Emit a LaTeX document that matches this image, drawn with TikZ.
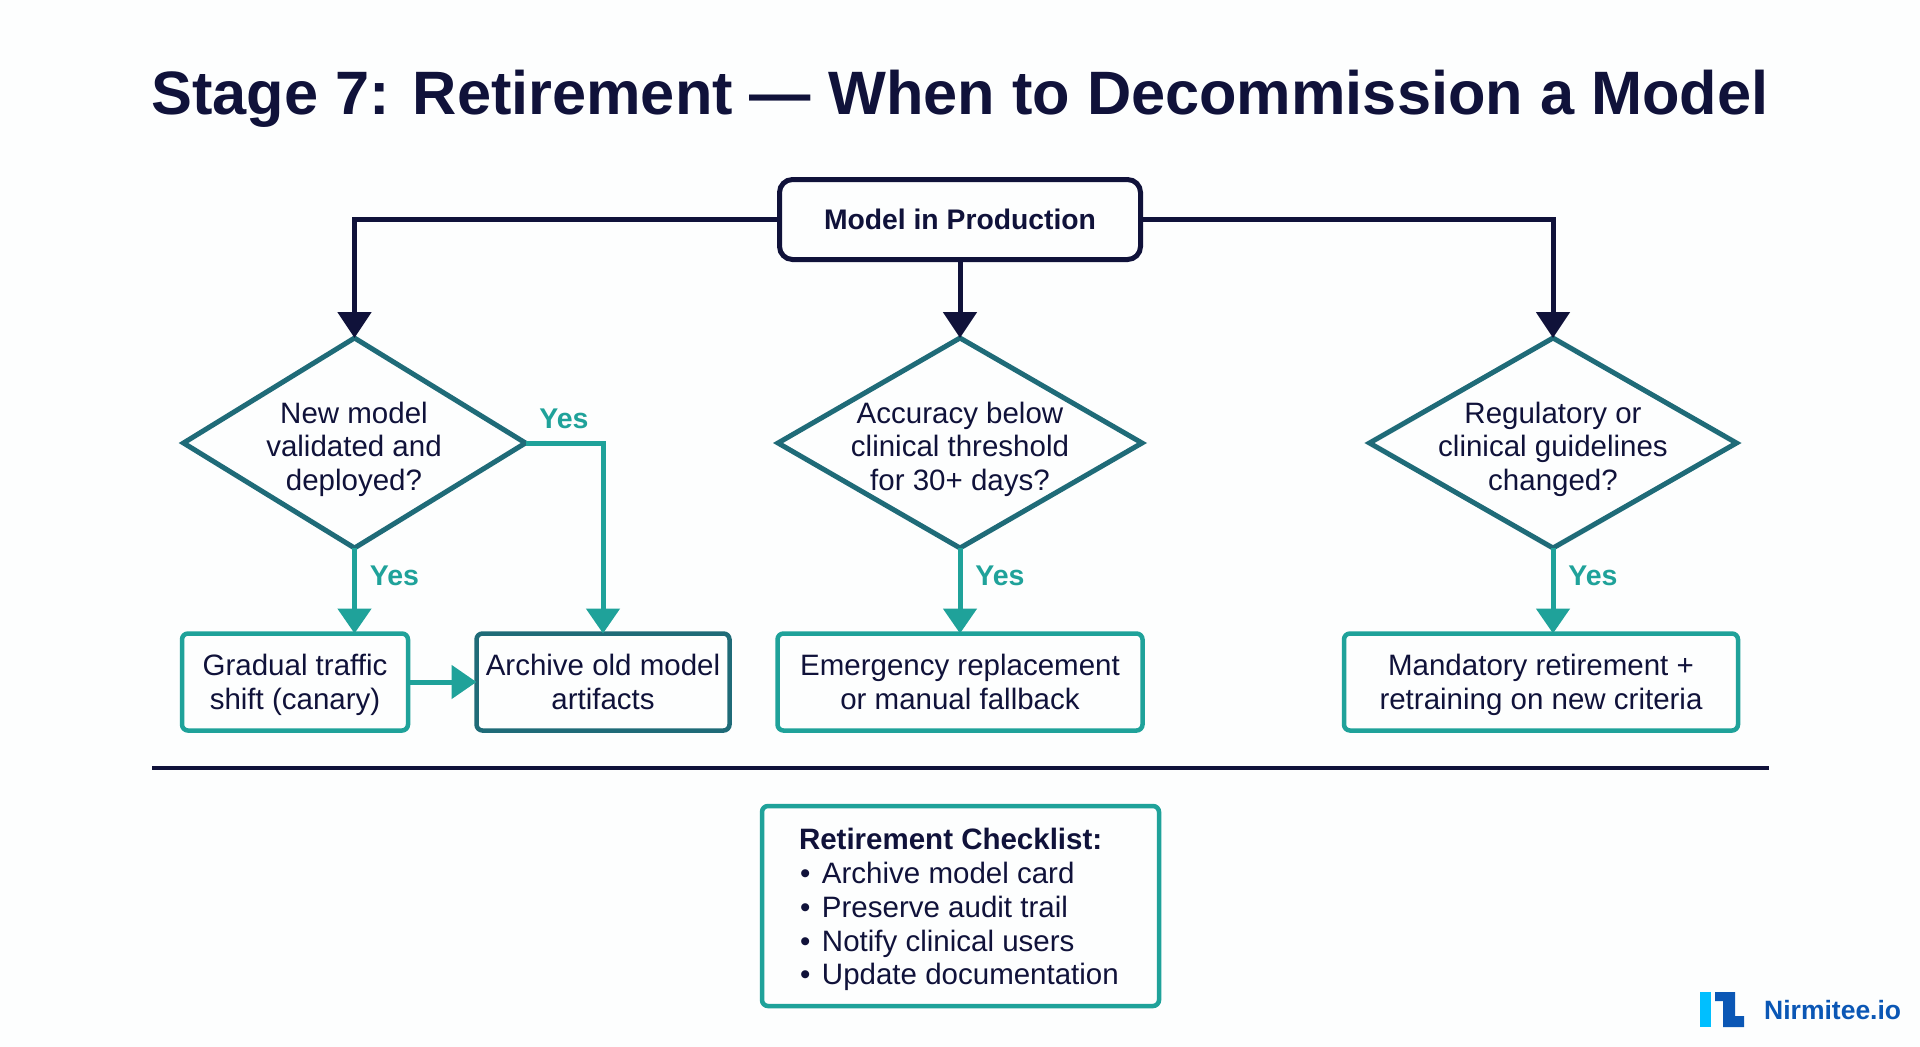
\documentclass[tikz,border=0pt]{standalone}
\usepackage{fontspec}
\setmainfont{Liberation Sans}
\usetikzlibrary{arrows.meta,shapes.geometric}
\definecolor{navy}{HTML}{10123A}
\definecolor{deepteal}{HTML}{1F6B78}
\definecolor{teal}{HTML}{1FA29A}
\definecolor{logoblue}{HTML}{0B57B5}
\definecolor{logocyan}{HTML}{00BFFF}
\definecolor{paper}{HTML}{FDFEFE}
\tikzset{
  x=1pt,y=-1pt,
  body/.style={font=\fontsize{29.5}{33.7}\selectfont,text=navy,align=center,inner sep=0pt,outer sep=0pt,
    execute at begin node={\strut},execute at end node={\strut}},
  decision/.style={diamond,draw=deepteal,line width=5pt,fill=paper,inner sep=0pt,outer sep=0pt,aspect=1.7},
  outcome/.style={inner sep=0pt,outer sep=0pt,draw=teal,line width=4.5pt,fill=paper,rounded corners=6pt},
  startbox/.style={text=navy,align=center,inner sep=0pt,outer sep=0pt,draw=navy,line width=5pt,fill=paper,rounded corners=13pt,font=\fontsize{28.3}{33.7}\selectfont\bfseries},
  darkflow/.style={draw=navy,line width=5pt,-{Triangle[length=26pt,width=33pt]}},
  tealflow/.style={draw=teal,line width=5pt,-{Triangle[length=25pt,width=33pt]}},
  yeslabel/.style={font=\fontsize{28.5}{33}\selectfont\bfseries,text=teal,inner sep=0pt},
}
\begin{document}
\begin{tikzpicture}
\useasboundingbox[fill=paper] (0,0) rectangle (1920,1047);
\node[font=\fontsize{61.3}{70}\selectfont\bfseries,text=navy,inner sep=0pt] (title) at (960,99) {Stage 7: Retirement — When to Decommission a Model};

\node[startbox,minimum width=361pt,minimum height=80pt] (start) at (960,219.5) {\raisebox{-2pt}{Model in Production}};

\node[decision,minimum width=342pt,minimum height=210pt] (d1) at (354.5,443) {};
\node[decision,minimum width=364pt,minimum height=210pt] (d2) at (960,443) {};
\node[decision,minimum width=367pt,minimum height=210pt] (d3) at (1553,443) {};
\node[body] (d1t) at (354,451.3) {New model\\validated and\\deployed?};
\node[body] (d2t) at (960,451.3) {Accuracy below\\clinical threshold\\for 30+ days?};
\node[body] (d3t) at (1553,451.3) {Regulatory or\\clinical guidelines\\changed?};

\node[outcome,minimum width=226pt,minimum height=97pt] (b1) at (295,682) {};
\node[outcome,draw=deepteal,minimum width=253pt,minimum height=97pt] (b2) at (603,682) {};
\node[outcome,minimum width=365pt,minimum height=97pt] (b3) at (960,682) {};
\node[outcome,minimum width=394pt,minimum height=97pt] (b4) at (1541,682) {};
\node[body] (b1t) at (295,687) {Gradual traffic\\shift (canary)};
\node[body] (b2t) at (603,687) {Archive old model\\artifacts};
\node[body] (b3t) at (960,687) {Emergency replacement\\or manual fallback};
\node[body] (b4t) at (1541,687) {Mandatory retirement +\\retraining on new criteria};

\draw[darkflow] (start.west) -| (d1.north);
\draw[darkflow] (start.south) -- (d2.north);
\draw[darkflow] (start.east) -| (d3.north);

\draw[tealflow] (d1.south) -- (d1.south |- b1.north);
\draw[tealflow] (d1.east) -| (b2.north);
\draw[tealflow] (b1.east) -- (b2.west);
\draw[tealflow] (d2.south) -- (b3.north);
\draw[tealflow] (d3.south) -- (d3.south |- b4.north);

\node[yeslabel] (y1) at (564,419) {Yes};
\node[yeslabel] (y2) at (394.5,576) {Yes};
\node[yeslabel] (y3) at (1000,576) {Yes};
\node[yeslabel] (y4) at (1593,576) {Yes};

\coordinate (ruleL) at (152,768);
\coordinate (ruleR) at (1769,768);
\draw[navy,line width=4pt] (ruleL) -- (ruleR);

\node[outcome,minimum width=397pt,minimum height=200pt] (check) at (960.5,906) {};
\node[body,align=left,anchor=west] (checkt) at (799,911.7)
  {\textbf{Retirement Checklist:}\\
   \makebox[23pt][l]{\hspace{1pt}•}Archive model card\\
   \makebox[23pt][l]{\hspace{1pt}•}Preserve audit trail\\
   \makebox[23pt][l]{\hspace{1pt}•}Notify clinical users\\
   \makebox[23pt][l]{\hspace{1pt}•}Update documentation};

\fill[logocyan] (1700,992) rectangle (1711,1027);
\fill[logoblue] (1715,992) -- (1735,992) -- (1735,1016) -- (1744,1016) -- (1744,1027) -- (1723,1027) -- (1723,1001) -- (1715,1001) -- cycle;
\node[font=\fontsize{26.5}{30}\selectfont\bfseries,text=logoblue,inner sep=0pt,anchor=west] (logo) at (1764,1010) {Nirmitee.io};
\end{tikzpicture}
\end{document}
